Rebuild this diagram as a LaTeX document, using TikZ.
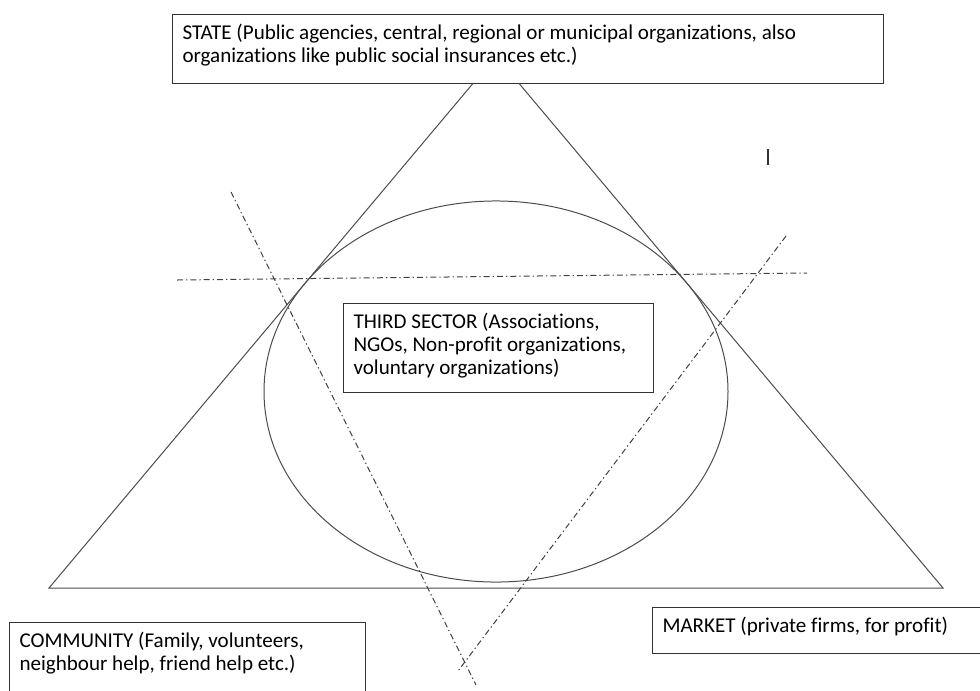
\documentclass[tikz,border=0pt]{standalone}
\usepackage{fontspec}
\setmainfont{Carlito}[Ligatures=NoCommon]
\newcommand{\boxtext}[3]{\parbox[t][#2][t]{#1}{\strut #3}}
\begin{document}
\begin{tikzpicture}[x=0.75pt,y=-0.75pt,
  sectorbox/.style={draw=black!80, line width=0.75pt, fill=white, anchor=north west, inner xsep=7.5pt, inner ysep=6.75pt, font=\fontsize{15.8pt}{17.25pt}\selectfont},
  side/.style={draw=black!70, line width=0.75pt},
  axis/.style={draw=black!75, line width=0.75pt, dash pattern=on 4.5pt off 2.25pt on 1pt off 2.25pt}]
\clip (0,0) rectangle (980,690);
\coordinate (apex) at (496,56);
\coordinate (leftcorner) at (49,588);
\coordinate (rightcorner) at (943,588);
\draw[side] (leftcorner) -- (apex) -- (rightcorner) -- cycle;
\draw[side] (496,391.5) ellipse [x radius=174pt, y radius=142.9pt];
\coordinate (h1) at (177,280);
\coordinate (h2) at (807,273);
\coordinate (l1) at (231,192);
\coordinate (l2) at (476,685);
\coordinate (r1) at (786,236);
\coordinate (r2) at (458,671);
\draw[axis] (h1) -- (h2);
\draw[axis] (l1) -- (l2);
\draw[axis] (r1) -- (r2);
\draw[black!80, line width=1.1pt] (768,149) -- (768,165);
\node[sectorbox] (state) at (172,14) {\boxtext{518.25pt}{38.25pt}{STATE (Public agencies, central, regional or municipal organizations, also\\organizations like public social insurances etc.)}};
\node[sectorbox] (third) at (343,303) {\boxtext{217.5pt}{53.25pt}{THIRD SECTOR (Associations,\\NGOs, Non-profit organizations,\\voluntary organizations)}};
\node[sectorbox] (community) at (9,622) {\boxtext{252pt}{46.5pt}{COMMUNITY (Family, volunteers,\\neighbour help, friend help etc.)}};
\node[sectorbox] (market) at (652,607) {\boxtext{238.5pt}{21pt}{MARKET (private firms, for profit)}};
\end{tikzpicture}
\end{document}
